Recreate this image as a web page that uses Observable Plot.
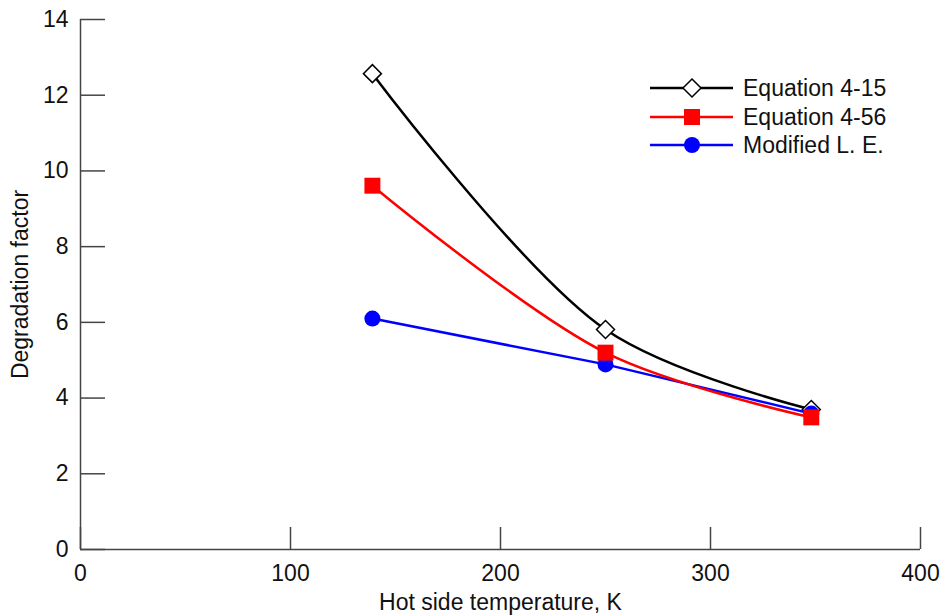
<!DOCTYPE html>
<html>
<head>
<meta charset="utf-8">
<script src="https://cdn.jsdelivr.net/npm/d3@7"></script>
<script src="https://cdn.jsdelivr.net/npm/@observablehq/plot@0.6"></script>
<style>
  html, body { margin: 0; padding: 0; background: #fff; }
  #wrap { position: relative; width: 943px; height: 616px; font-family: "Liberation Sans", Arial, sans-serif; }
  #legend { position: absolute; left: 0; top: 0; }
</style>
</head>
<body>
<div id="wrap"></div>
<script>
// ---- data ----
const temperature = [139, 250, 348];
const eq415 = [12.57, 5.81, 3.70];
const eq456 = [9.61, 5.20, 3.49];
const modLE = [6.10, 4.89, 3.59];
const seriesNames = ["Equation 4-15", "Equation 4-56", "Modified L. E."];
const xTicks = [0, 100, 200, 300, 400];
const yTicks = [0, 2, 4, 6, 8, 10, 12, 14];
const xLabel = "Hot side temperature, K";
const yLabel = "Degradation factor";

const mk = (vals) => temperature.map((t, i) => ({t, v: vals[i]}));
const black = mk(eq415), red = mk(eq456), blue = mk(modLE);

const axisColor = "#444";
const font = "Liberation Sans, Arial, sans-serif";
const fs = 23;

const chart = Plot.plot({
  width: 943,
  height: 616,
  marginLeft: 80,
  marginRight: 23,
  marginTop: 19,
  marginBottom: 67,
  style: {fontFamily: font, fontSize: fs + "px", color: "#111", background: "#fff", overflow: "visible"},
  x: {domain: [0, 400], ticks: xTicks},
  y: {domain: [0, 14], ticks: yTicks},
  marks: [
    // inward ticks
    Plot.axisX({ticks: xTicks, tickSize: -22, tickFormat: () => "", stroke: axisColor, strokeWidth: 1.5, label: null}),
    Plot.axisY({ticks: yTicks, tickSize: -25, tickFormat: () => "", stroke: axisColor, strokeWidth: 1.5, label: null}),
    // tick labels
    Plot.axisX({ticks: xTicks, tickSize: 0, tickPadding: 15, label: null, fontSize: fs, fill: "#111"}),
    Plot.axisY({ticks: yTicks, tickSize: 0, tickPadding: 12, label: null, fontSize: fs, fill: "#111"}),
    // axis lines
    Plot.ruleX([0], {stroke: axisColor, strokeWidth: 1.5}),
    Plot.ruleY([0], {stroke: axisColor, strokeWidth: 1.5}),
    // axis titles
    Plot.text([xLabel], {frameAnchor: "bottom", textAnchor: "middle", lineAnchor: "middle", dy: 53, fontSize: fs, fill: "#111"}),
    Plot.text([yLabel], {frameAnchor: "left", textAnchor: "middle", lineAnchor: "middle", dx: -60, rotate: -90, fontSize: fs, fill: "#111"}),
    // series
    Plot.line(black, {x: "t", y: "v", stroke: "black", strokeWidth: 2.5, curve: "catmull-rom"}),
    Plot.dot(black, {x: "t", y: "v", symbol: "diamond2", r: 8.1, fill: "white", stroke: "black", strokeWidth: 1.5}),
    Plot.line(blue, {x: "t", y: "v", stroke: "#0000ff", strokeWidth: 2.5}),
    Plot.dot(blue, {x: "t", y: "v", symbol: "circle", r: 8, fill: "#0000ff"}),
    Plot.line(red, {x: "t", y: "v", stroke: "#ff0000", strokeWidth: 2.5, curve: "catmull-rom"}),
    Plot.dot(red, {x: "t", y: "v", symbol: "square", r: 9, fill: "#ff0000"})
  ]
});

const wrap = document.getElementById("wrap");
wrap.appendChild(chart);

// legend overlay
const colors = ["black", "#ff0000", "#0000ff"];
const syms = ["diamond", "square", "circle"];
const ns = "http://www.w3.org/2000/svg";
const lg = document.createElementNS(ns, "svg");
lg.setAttribute("id", "legend");
lg.setAttribute("width", 943);
lg.setAttribute("height", 616);
const rowY = [88, 117, 145];
seriesNames.forEach((name, i) => {
  const y = rowY[i];
  const line = document.createElementNS(ns, "line");
  line.setAttribute("x1", 650); line.setAttribute("x2", 733);
  line.setAttribute("y1", y); line.setAttribute("y2", y);
  line.setAttribute("stroke", colors[i]); line.setAttribute("stroke-width", 2.5);
  lg.appendChild(line);
  let m;
  if (syms[i] === "diamond") {
    m = document.createElementNS(ns, "path");
    m.setAttribute("d", `M692,${y-9}L701,${y}L692,${y+9}L683,${y}Z`);
    m.setAttribute("fill", "white"); m.setAttribute("stroke", "black"); m.setAttribute("stroke-width", 1.5);
  } else if (syms[i] === "square") {
    m = document.createElementNS(ns, "rect");
    m.setAttribute("x", 684); m.setAttribute("y", y - 8);
    m.setAttribute("width", 16); m.setAttribute("height", 16);
    m.setAttribute("fill", colors[i]);
  } else {
    m = document.createElementNS(ns, "circle");
    m.setAttribute("cx", 692); m.setAttribute("cy", y); m.setAttribute("r", 8);
    m.setAttribute("fill", colors[i]);
  }
  lg.appendChild(m);
  const t = document.createElementNS(ns, "text");
  t.setAttribute("x", 743); t.setAttribute("y", y);
  t.setAttribute("dy", "0.35em");
  t.setAttribute("font-size", fs);
  t.setAttribute("font-family", font);
  t.setAttribute("fill", "#111");
  t.textContent = name;
  lg.appendChild(t);
});
wrap.appendChild(lg);
</script>
</body>
</html>
